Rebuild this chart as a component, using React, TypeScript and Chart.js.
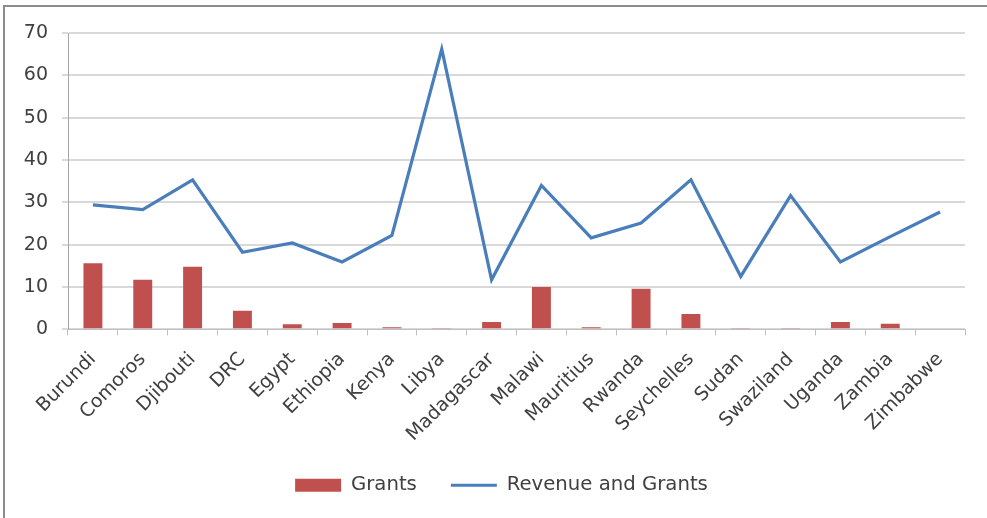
import React, { useEffect, useRef } from "react";
import { Chart, registerables } from "chart.js";

Chart.register(...registerables);

const categories = [
  "Burundi", "Comoros", "Djibouti", "DRC", "Egypt", "Ethiopia", "Kenya", "Libya", "Madagascar",
  "Malawi", "Mauritius", "Rwanda", "Seychelles", "Sudan", "Swaziland", "Uganda", "Zambia", "Zimbabwe",
];
const grants = [15.6, 11.7, 14.8, 4.4, 1.2, 1.5, 0.5, 0.3, 1.7, 10.0, 0.5, 9.6, 3.6, 0.3, 0.3, 1.7, 1.3, 0];
const revenueAndGrants = [29.4, 28.3, 35.3, 18.2, 20.4, 15.9, 22.2, 66.2, 11.7, 34.0, 21.6, 25.1, 35.3, 12.5, 31.6, 15.9, 21.9, 27.7];
const yMin = 0;
const yMax = 70;
const yStep = 10;

const FONT = "'DejaVu Sans', sans-serif";
const TEXT = "#404040";

const legendShift = {
  id: "legendShift",
  afterLayout(chart: any) {
    const lg = chart.legend;
    if (lg) {
      lg.left += 9;
      lg.right += 9;
    }
  },
};

export default function App() {
  const ref = useRef<HTMLCanvasElement | null>(null);

  useEffect(() => {
    if (!ref.current) return;
    const chart = new Chart(ref.current, {
      type: "bar",
      data: {
        labels: categories,
        datasets: [
          {
            type: "bar",
            label: "Grants",
            data: grants,
            backgroundColor: "#C0504D",
            borderWidth: 0,
            barPercentage: 0.38,
            categoryPercentage: 1.0,
            order: 1,
          },
          {
            type: "line",
            label: "Revenue and Grants",
            data: revenueAndGrants,
            borderColor: "#4A7EBB",
            backgroundColor: "#4A7EBB",
            borderWidth: 3.2,
            pointRadius: 0,
            tension: 0,
            order: 0,
          },
        ],
      },
      plugins: [legendShift],
      options: {
        animation: false,
        responsive: true,
        maintainAspectRatio: false,
        layout: { padding: { left: 20, right: 22, top: 33, bottom: 13 } },
        plugins: {
          tooltip: { enabled: false },
          legend: {
            position: "bottom",
            labels: {
              font: { family: FONT, size: 19.7 },
              color: TEXT,
              usePointStyle: true,
              pointStyleWidth: 46,
              boxHeight: 13,
              padding: 34,
              sort: (a: any, b: any) => a.datasetIndex - b.datasetIndex,
              generateLabels: (c: any) => {
                const items = (Chart.defaults.plugins.legend.labels as any).generateLabels(c);
                items.forEach((it: any) => {
                  if (it.datasetIndex === 0) {
                    it.pointStyle = "rect";
                    it.lineWidth = 0;
                    it.strokeStyle = "#C0504D";
                  } else {
                    it.pointStyle = "line";
                    it.lineWidth = 3;
                    it.strokeStyle = "#4A7EBB";
                  }
                });
                return items;
              },
            },
          },
        },
        scales: {
          x: {
            type: "category",
            offset: true,
            grid: {
              offset: true,
              drawOnChartArea: false,
              drawTicks: true,
              tickLength: 6,
              color: "#BFBFBF",
              lineWidth: 1,
            },
            border: { display: true, color: "#BFBFBF", width: 1 },
            ticks: {
              autoSkip: false,
              minRotation: 45,
              maxRotation: 45,
              padding: 13,
              color: TEXT,
              font: { family: FONT, size: 19 },
            },
            afterFit: (s: any) => {
              s.height = 112;
            },
          },
          y: {
            min: yMin,
            max: yMax,
            ticks: {
              stepSize: yStep,
              padding: 14,
              color: TEXT,
              font: { family: FONT, size: 19 },
            },
            grid: {
              color: "#D9D9D9",
              lineWidth: 2,
              drawTicks: true,
              tickLength: 6,
            },
            border: { display: true, color: "#A6A6A6", width: 1 },
            afterFit: (s: any) => {
              s.width = 48;
            },
          },
        },
      },
    });
    return () => chart.destroy();
  }, []);

  return (
    <div style={{ position: "absolute", left: 0, top: 0, width: 987, height: 518, background: "#fff" }}>
      <div
        style={{
          position: "absolute",
          left: 3,
          top: 5,
          right: 0,
          bottom: 0,
          borderLeft: "2px solid #8C8C8C",
          borderTop: "2px solid #8C8C8C",
        }}
      />
      <div style={{ position: "absolute", left: 0, top: 0, width: 987, height: 518 }}>
        <canvas ref={ref} />
      </div>
    </div>
  );
}
